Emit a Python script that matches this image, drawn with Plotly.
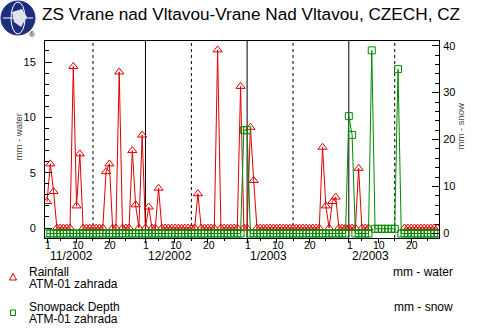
import pandas as pd
import plotly.graph_objects as go

# Daily series, 1 Nov 2002 - 28 Feb 2003
dates = pd.date_range("2002-11-01", "2003-02-28", freq="D")

rain_nov = [2.4, 5.8, 3.3, 0, 0, 0, 0, 0, 14.6, 2.0,
            6.7, 0, 0, 0, 0, 0, 0, 0, 5.1, 5.8,
            0, 0, 14.1, 0, 0, 0, 7.0, 2.1, 0, 8.4]
rain_dec = [0, 1.9, 0, 0, 3.6, 0, 0, 0, 0, 0,
            0, 0, 0, 0, 0, 0, 3.1, 0, 0, 0,
            0, 0, 16.1, 0, 0, 0, 0, 0, 0, 12.8, 0]
rain_jan = [0, 9.1, 4.3, 0, 0, 0, 0, 0, 0, 0,
            0, 0, 0, 0, 0, 0, 0, 0, 0, 0,
            0, 0, 0, 7.3, 2.0, 0, 2.4, 2.8, 0, 0, 0]
rain_feb = [0, 0, 0, 5.4, 0, 0, 0, None, None, None,
            None, None, None, None, None, None, None, 0, 0, 0,
            0, 0, 0, 0, 0, 0, 0, 0]

snow_nov = [0, 0, 0, 0, 0, 0, 0, 0, 0, 0,
            0, 0, 0, 0, 0, 0, 0, 0, 0, 0,
            0, 0, 0, 0, 0, 0, 0, 0, 0, 0]
snow_dec = [0, 0, 0, 0, 0, 0, 0, 0, 0, 0,
            0, 0, 0, 0, 0, 0, 0, 0, 0, 0,
            0, 0, 0, 0, 0, 0, 0, 0, 0, 0, 22]
snow_jan = [22, 0, 0, 0, 0, 0, 0, 0, 0, 0,
            0, 0, 0, 0, 0, 0, 0, 0, 0, 0,
            0, 0, 0, 0, 0, 0, 0, 0, 0, 0, 0]
snow_feb = [25, 21, 0, 0, 0, 0, 0, 39, 1, 1,
            1, 1, 1, 1, 1, 35, 0, 0, 0, 0,
            0, 0, 0, 0, 0, 0, 0, 0]

rainfall = rain_nov + rain_dec + rain_jan + rain_feb
snowpack = snow_nov + snow_dec + snow_jan + snow_feb

months = ["2002-11", "2002-12", "2003-01", "2003-02"]
month_labels = ["11/2002", "12/2002", "1/2003", "2/2003"]
tick_days = [1, 10, 20]
minor_days = [5, 15, 25]

title_text = "ZS Vrane nad Vltavou-Vrane Nad Vltavou, CZECH, CZ"
station = "ATM-01 zahrada"

RED = "#e00000"
GREEN = "#008a00"
FONT = "Liberation Sans, Arial, sans-serif"

# plot-area box in pixels
L, R, T, B = 45, 439, 41, 238
W, H = R - L, B - T


def px(x):
    return (x - L) / W


def py(y):
    return (B - y) / H


def txt(x, y, text, size, **kw):
    d = dict(x=px(x), y=py(y), xref="paper", yref="paper", text=text, showarrow=False,
             yanchor="middle", font=dict(size=size, color=kw.pop("color", "black"), family=FONT))
    d.update(kw)
    return d


fig = go.Figure()
fig.add_trace(go.Scatter(
    x=dates, y=rainfall, mode="lines+markers", yaxis="y",
    line=dict(color=RED, width=1),
    marker=dict(symbol="triangle-up-open", size=8, color=RED, line=dict(width=1)),
    connectgaps=False, showlegend=False))
fig.add_trace(go.Scatter(
    x=dates, y=snowpack, mode="lines+markers", yaxis="y2",
    line=dict(color=GREEN, width=1),
    marker=dict(symbol="square-open", size=7, color=GREEN, line=dict(width=1)),
    showlegend=False))

tickvals, minorvals = [], []
shapes = []
annotations = []
for m, lab in zip(months, month_labels):
    for d in tick_days:
        t = pd.Timestamp(f"{m}-{d:02d}")
        tickvals.append(t)
        # day number under each major tick
        annotations.append(dict(x=t, y=py(245), xref="x", yref="paper", text=str(d),
                                showarrow=False, xanchor="center", yanchor="middle",
                                xshift=1, borderpad=0,
                                font=dict(size=10.5, color="black", family=FONT)))
    for d in minor_days:
        minorvals.append(pd.Timestamp(f"{m}-{d:02d}"))
    start = pd.Timestamp(f"{m}-01")
    mid = pd.Timestamp(f"{m}-15")
    if m != months[0]:
        shapes.append(dict(type="line", xref="x", yref="paper", x0=start, x1=start,
                           y0=0, y1=1, line=dict(color="black", width=1), layer="below"))
    shapes.append(dict(type="line", xref="x", yref="paper", x0=mid, x1=mid,
                       y0=0, y1=1, line=dict(color="black", width=1, dash="dot"),
                       layer="below"))
    annotations.append(dict(x=start, y=py(255.5), xref="x", yref="paper",
                            text=lab, showarrow=False, xanchor="left", yanchor="middle",
                            xshift=2, borderpad=0,
                            font=dict(size=12, color="black", family=FONT)))

# title and globe emblem
annotations.append(txt(40, 14, title_text, 17.2, xanchor="left"))
annotations.append(txt(32, 34, "®", 8, xanchor="center"))
shapes.append(dict(type="circle", xref="paper", yref="paper",
                   x0=px(1), x1=px(35), y0=py(35), y1=py(1),
                   fillcolor="#1c2d7e", line=dict(color="#1c2d7e", width=1)))
shapes.append(dict(type="circle", xref="paper", yref="paper",
                   x0=px(11), x1=px(25), y0=py(34), y1=py(2),
                   line=dict(color="white", width=1)))
shapes.append(dict(type="line", xref="paper", yref="paper",
                   x0=px(3), x1=px(33), y0=py(18), y1=py(18),
                   line=dict(color="white", width=1)))
shapes.append(dict(type="path", xref="paper", yref="paper",
                   path=f"M{px(12)},{py(12)} L{px(22)},{py(9)} L{px(27)},{py(17)} "
                        f"L{px(21)},{py(27)} L{px(14)},{py(22)} Z",
                   fillcolor="#dfe3f0", line=dict(color="white", width=0)))

# axis titles
annotations.append(txt(10, 137, "mm - water", 9.5, color="#444", textangle=-90))
annotations.append(txt(468, 126, "mm - snow", 9.5, color="#444", textangle=-90))

# legend block
legend_rows = [
    ("Rainfall", "mm - water", 271.7),
    ("Snowpack Depth", "mm - snow", 307.3),
]
for name, unit, yc in legend_rows:
    annotations.append(txt(26.5, yc, name, 12, xanchor="left"))
    annotations.append(txt(26.5, yc + 11.8, station, 12, xanchor="left"))
    annotations.append(txt(454.5, yc, unit, 12, xanchor="right"))

shapes.append(dict(type="path", xref="paper", yref="paper",
                   path=f"M{px(9.5)},{py(280)} L{px(16.5)},{py(280)} L{px(13)},{py(273.5)} Z",
                   line=dict(color=RED, width=1)))
shapes.append(dict(type="rect", xref="paper", yref="paper",
                   x0=px(10.5), x1=px(15.5), y0=py(315.5), y1=py(310),
                   line=dict(color=GREEN, width=1)))

fig.update_layout(
    width=480, height=332,
    margin=dict(l=L, r=480 - R, t=T, b=332 - B, pad=0),
    paper_bgcolor="white", plot_bgcolor="white",
    font=dict(family=FONT, color="black"),
    showlegend=False,
    xaxis=dict(
        range=["2002-10-31 09:00", "2003-02-28 12:00"],
        tickvals=tickvals, showticklabels=False,
        ticks="outside", ticklen=4, tickcolor="black",
        minor=dict(tickvals=minorvals, ticks="outside", ticklen=2, tickcolor="black",
                   showgrid=False),
        showgrid=False, zeroline=False,
        showline=True, linecolor="black", linewidth=1, mirror=True,
    ),
    yaxis=dict(
        range=[-0.9, 16.9],
        tickvals=[0, 5, 10, 15],
        ticks="inside", ticklen=7, tickcolor="black",
        minor=dict(dtick=1, ticks="inside", ticklen=4, tickcolor="black", showgrid=False),
        tickfont=dict(size=11, color="black"),
        ticklabelstandoff=6,
        showgrid=False, zeroline=False,
        showline=True, linecolor="black", linewidth=1,
    ),
    yaxis2=dict(
        range=[-0.96, 41.0],
        overlaying="y", side="right",
        tickvals=[0, 10, 20, 30, 40],
        ticks="inside", ticklen=7, tickcolor="black",
        minor=dict(dtick=2, ticks="inside", ticklen=4, tickcolor="black", showgrid=False),
        tickfont=dict(size=11, color="black"),
        ticklabelstandoff=1,
        showgrid=False, zeroline=False,
        showline=True, linecolor="black", linewidth=1,
    ),
    shapes=shapes,
    annotations=annotations,
)

fig.write_html("out.html")
